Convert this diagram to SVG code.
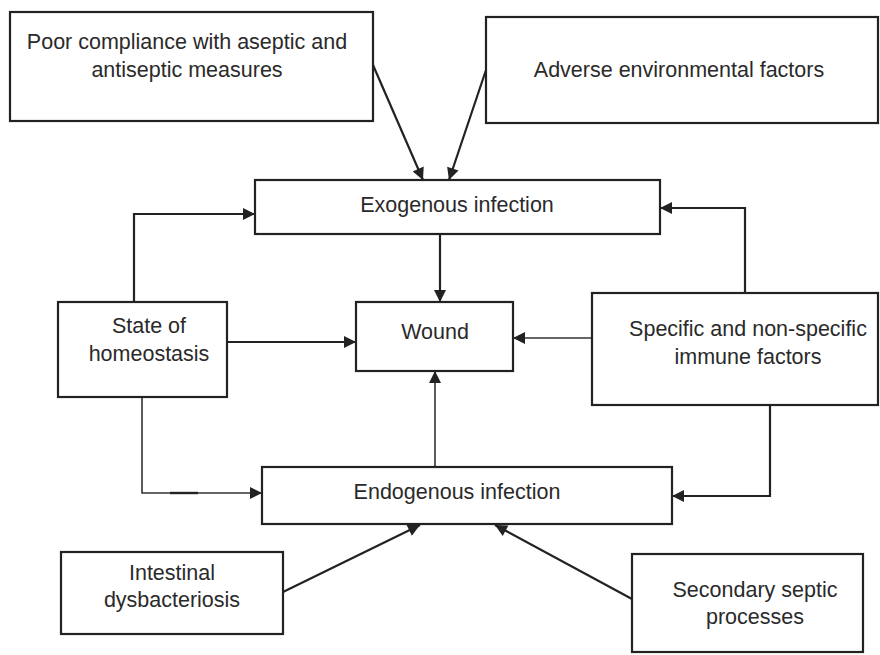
<svg xmlns="http://www.w3.org/2000/svg" width="880" height="655" viewBox="0 0 880 655">
<defs>
<style>
.box{fill:#fff;stroke:#222;stroke-width:2.2}
.t{font-family:"Liberation Sans",Arial,sans-serif;font-size:21.5px;fill:#2a2a2a;text-anchor:middle;dominant-baseline:central}
.c{fill:none;stroke:#222;stroke-width:2.2}
.c2{fill:none;stroke:#333;stroke-width:1.6}
</style>
<marker id="ah" viewBox="0 0 10 10" refX="10" refY="5" markerWidth="14" markerHeight="12" markerUnits="userSpaceOnUse" orient="auto">
<path d="M0,0 L10,5 L0,10 Z" fill="#222"/>
</marker>
</defs>
<rect width="880" height="655" fill="#fff"/>
<g id="connectors">
<line class="c" x1="373" y1="65" x2="423" y2="180" marker-end="url(#ah)"/>
<line class="c" x1="486" y1="70" x2="449" y2="180" marker-end="url(#ah)"/>
<line class="c" x1="440" y1="234" x2="440" y2="302" marker-end="url(#ah)"/>
<polyline class="c" points="134,302 134,214 255,214" marker-end="url(#ah)"/>
<line class="c" x1="227" y1="342" x2="356" y2="342" marker-end="url(#ah)"/>
<polyline class="c2" points="142,397 142,493 262,493" marker-end="url(#ah)"/>
<line x1="170" y1="493" x2="198" y2="493" stroke="#222" stroke-width="2.4"/>
<line class="c2" x1="435" y1="467" x2="435" y2="371" marker-end="url(#ah)"/>
<line class="c2" x1="592" y1="338" x2="513" y2="338" marker-end="url(#ah)"/>
<polyline class="c" points="745,293 745,208 660,208" marker-end="url(#ah)"/>
<polyline class="c" points="770,405 770,496 672,496" marker-end="url(#ah)"/>
<line class="c" x1="283" y1="592" x2="420" y2="525" marker-end="url(#ah)"/>
<line class="c" x1="632" y1="599" x2="495" y2="525" marker-end="url(#ah)"/>
</g>
<g id="poor-compliance">
<rect class="box" x="10" y="12" width="363" height="109"/>
<text class="t" x="187" y="42">Poor compliance with aseptic and</text>
<text class="t" x="187" y="70">antiseptic measures</text>
</g>
<g id="adverse">
<rect class="box" x="486" y="17" width="392" height="106"/>
<text class="t" x="679" y="70">Adverse environmental factors</text>
</g>
<g id="exogenous">
<rect class="box" x="255" y="180" width="405" height="54"/>
<text class="t" x="457" y="205">Exogenous infection</text>
</g>
<g id="wound">
<rect class="box" x="356" y="302" width="157" height="69"/>
<text class="t" x="435" y="332">Wound</text>
</g>
<g id="homeostasis">
<rect class="box" x="58" y="302" width="169" height="95"/>
<text class="t" x="149" y="326">State of</text>
<text class="t" x="149" y="354">homeostasis</text>
</g>
<g id="immune">
<rect class="box" x="592" y="293" width="286" height="112"/>
<text class="t" x="748" y="329">Specific and non-specific</text>
<text class="t" x="748" y="357">immune factors</text>
</g>
<g id="endogenous">
<rect class="box" x="262" y="467" width="410" height="57"/>
<text class="t" x="457" y="492">Endogenous infection</text>
</g>
<g id="intestinal">
<rect class="box" x="61" y="552" width="222" height="82"/>
<text class="t" x="172" y="573">Intestinal</text>
<text class="t" x="172" y="600">dysbacteriosis</text>
</g>
<g id="secondary">
<rect class="box" x="632" y="554" width="231" height="98"/>
<text class="t" x="755" y="590">Secondary septic</text>
<text class="t" x="755" y="617">processes</text>
</g>
</svg>
